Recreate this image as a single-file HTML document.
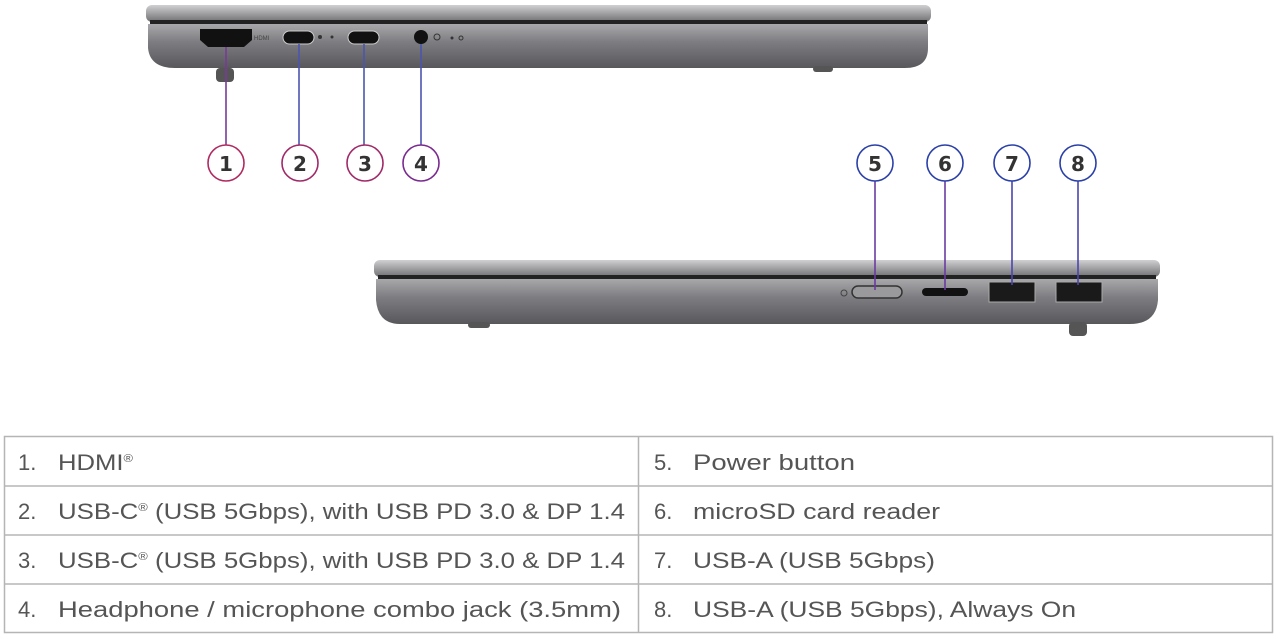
<!DOCTYPE html>
<html><head><meta charset="utf-8"><style>
html,body{margin:0;padding:0;background:#fff;width:1280px;height:639px;overflow:hidden}
svg{position:absolute;left:0;top:0}
text.t{font-family:"Liberation Sans",sans-serif;font-size:22px;fill:#555}
text.n{font-family:"DejaVu Sans",sans-serif;font-weight:bold;font-size:20px;fill:#333;text-anchor:middle}
</style></head><body>
<svg width="1280" height="639" viewBox="0 0 1280 639">
<defs>
<linearGradient id="lid" x1="0" y1="0" x2="0" y2="1"><stop offset="0" stop-color="#d0d0d2"/><stop offset="0.5" stop-color="#a0a0a3"/><stop offset="1" stop-color="#707073"/></linearGradient>
<linearGradient id="body" x1="0" y1="0" x2="0" y2="1"><stop offset="0" stop-color="#a8a8ab"/><stop offset="0.4" stop-color="#7e7e82"/><stop offset="1" stop-color="#58585c"/></linearGradient>
</defs>
<!-- Laptop 1 -->
<rect x="146" y="5" width="785" height="17" rx="6" fill="url(#lid)"/>
<rect x="150" y="20" width="777" height="4" fill="#222"/>
<path d="M148 24 H928 V48 Q928 68 905 68 H175 Q150 68 148 48 Z" fill="url(#body)"/>
<rect x="216" y="68" width="18" height="14" rx="4" fill="#555"/>
<rect x="813" y="66" width="20" height="6" rx="3" fill="#555"/>
<path d="M200 29 H252 V40 L244 47 H208 L200 40 Z" fill="#111"/>
<text x="254" y="40" font-family="Liberation Sans" font-size="6" fill="#444">HDMI</text>
<rect x="283" y="31" width="31" height="13" rx="6.5" fill="#111" stroke="#ccc" stroke-width="1"/>
<rect x="348" y="31" width="31" height="13" rx="6.5" fill="#111" stroke="#ccc" stroke-width="1"/>
<circle cx="320" cy="37" r="2" fill="#333"/><circle cx="332" cy="37" r="1.5" fill="#333"/>
<circle cx="421" cy="37" r="7" fill="#111"/>
<circle cx="437" cy="37" r="3" fill="none" stroke="#333"/><circle cx="452" cy="38" r="1.5" fill="#333"/><circle cx="461" cy="38" r="2" fill="none" stroke="#333"/>
<!-- Laptop 2 -->
<rect x="374" y="260" width="786" height="17" rx="6" fill="url(#lid)"/>
<rect x="378" y="275" width="778" height="4" fill="#222"/>
<path d="M376 279 H1158 V300 Q1156 324 1130 324 H400 Q378 324 376 300 Z" fill="url(#body)"/>
<rect x="468" y="322" width="22" height="6" rx="3" fill="#555"/>
<rect x="1069" y="322" width="18" height="14" rx="4" fill="#555"/>
<circle cx="844" cy="293" r="3" fill="none" stroke="#444"/>
<rect x="852" y="286" width="50" height="12" rx="6" fill="#9a9a9c" stroke="#333" stroke-width="1.5"/>
<rect x="922" y="288" width="46" height="8" rx="4" fill="#111"/>
<rect x="989" y="282" width="46" height="20" fill="#1a1a1a" stroke="#aaa"/>
<rect x="1056" y="282" width="46" height="20" fill="#1a1a1a" stroke="#aaa"/>
<!-- leaders & circles -->
<g fill="none" stroke-width="1.6">
<line x1="226" y1="47" x2="226" y2="145" stroke="#7a3a9a"/>
<line x1="299" y1="44" x2="299" y2="145" stroke="#4a55b0"/>
<line x1="364" y1="44" x2="364" y2="145" stroke="#4a55b0"/>
<line x1="421" y1="44" x2="421" y2="145" stroke="#4a55b0"/>
<line x1="875" y1="181" x2="875" y2="290" stroke="#6a3aa0"/>
<line x1="945" y1="181" x2="945" y2="290" stroke="#6a3aa0"/>
<line x1="1012" y1="181" x2="1012" y2="285" stroke="#4a45b0"/>
<line x1="1078" y1="181" x2="1078" y2="285" stroke="#4a45b0"/>
<circle cx="226" cy="163" r="18" stroke="#b02a60"/>
<circle cx="300" cy="163" r="18" stroke="#a02a68"/>
<circle cx="365" cy="163" r="18" stroke="#a02a68"/>
<circle cx="421" cy="163" r="18" stroke="#7a2a90"/>
<circle cx="875" cy="163" r="18" stroke="#2a40a8"/>
<circle cx="945" cy="163" r="18" stroke="#2a40a8"/>
<circle cx="1012" cy="163" r="18" stroke="#2a40a8"/>
<circle cx="1078" cy="163" r="18" stroke="#2a40a8"/>
</g>
<text class="n" x="226" y="171">1</text><text class="n" x="300" y="171">2</text><text class="n" x="365" y="171">3</text><text class="n" x="421" y="171">4</text>
<text class="n" x="875" y="171">5</text><text class="n" x="945" y="171">6</text><text class="n" x="1012" y="171">7</text><text class="n" x="1078" y="171">8</text>
<!-- table -->
<g stroke="#b5b5b5" stroke-width="1.5" fill="none">
<rect x="4.5" y="436.5" width="1268" height="196"/>
<line x1="4" y1="486" x2="1273" y2="486"/><line x1="4" y1="535" x2="1273" y2="535"/><line x1="4" y1="584" x2="1273" y2="584"/>
<line x1="638.5" y1="436" x2="638.5" y2="633"/>
</g>
<text class="t" x="18" y="470">1.</text><text class="t" x="18" y="519">2.</text><text class="t" x="18" y="568">3.</text><text class="t" x="18" y="617">4.</text>
<text class="t" x="654" y="470">5.</text><text class="t" x="654" y="519">6.</text><text class="t" x="654" y="568">7.</text><text class="t" x="654" y="617">8.</text>
<text class="t" x="58" y="470" textLength="75" lengthAdjust="spacingAndGlyphs">HDMI<tspan font-size="11" dy="-8">®</tspan></text>
<text class="t" x="58" y="519" textLength="567" lengthAdjust="spacingAndGlyphs">USB-C<tspan font-size="11" dy="-8">®</tspan><tspan dy="8"> (USB 5Gbps), with USB PD 3.0 &amp; DP 1.4</tspan></text>
<text class="t" x="58" y="568" textLength="567" lengthAdjust="spacingAndGlyphs">USB-C<tspan font-size="11" dy="-8">®</tspan><tspan dy="8"> (USB 5Gbps), with USB PD 3.0 &amp; DP 1.4</tspan></text>
<text class="t" x="58" y="617" textLength="563" lengthAdjust="spacingAndGlyphs">Headphone / microphone combo jack (3.5mm)</text>
<text class="t" x="693" y="470" textLength="162" lengthAdjust="spacingAndGlyphs">Power button</text>
<text class="t" x="693" y="519" textLength="247" lengthAdjust="spacingAndGlyphs">microSD card reader</text>
<text class="t" x="693" y="568" textLength="242" lengthAdjust="spacingAndGlyphs">USB-A (USB 5Gbps)</text>
<text class="t" x="693" y="617" textLength="383" lengthAdjust="spacingAndGlyphs">USB-A (USB 5Gbps), Always On</text>
</svg>
</body></html>
